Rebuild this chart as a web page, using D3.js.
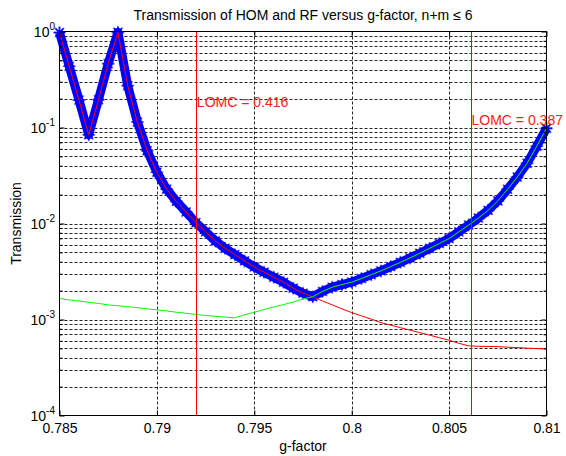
<!DOCTYPE html>
<html>
<head>
<meta charset="utf-8">
<script src="https://cdn.jsdelivr.net/npm/d3@7"></script>
<style>
  body { margin: 0; background: #fff; }
  svg { display: block; font-family: "Liberation Sans", Arial, sans-serif; }
</style>
</head>
<body>
<svg id="chart"></svg>
<script>
// g-factor sample points
const gFactor = [
  0.785, 0.7855, 0.786, 0.7865, 0.787, 0.7875, 0.788, 0.7885, 0.789, 0.7895,
  0.790, 0.7905, 0.791, 0.7915, 0.792, 0.7925, 0.793, 0.7935, 0.794, 0.7945,
  0.795, 0.7955, 0.796, 0.7965, 0.797, 0.7975, 0.798, 0.7985, 0.799, 0.7995,
  0.800, 0.8005, 0.801, 0.8015, 0.802, 0.8025, 0.803, 0.8035, 0.804, 0.8045,
  0.805, 0.8055, 0.806, 0.8065, 0.807, 0.8075, 0.808, 0.8085, 0.809, 0.8095, 0.810
];
// red trace
const redT = [
  0.976, 0.434, 0.193, 0.084, 0.195, 0.463, 0.98, 0.273, 0.114, 0.0573,
  0.0342, 0.0228, 0.0170, 0.0132, 0.0102, 0.0082, 0.00659, 0.00551, 0.00474, 0.00408,
  0.00352, 0.00311, 0.00276, 0.00244, 0.00212, 0.00188, 0.00172, 0.00156, 0.00142, 0.00129,
  0.00118, 0.00109, 0.00101, 0.000927, 0.000873, 0.000822, 0.000774, 0.000729, 0.000687, 0.000646,
  0.000608, 0.000565, 0.000532, 0.000526, 0.000524, 0.000522, 0.000515, 0.000509, 0.000503, 0.000498, 0.000493
];
// green trace
const greenT = [
  0.00166, 0.00160, 0.00156, 0.00151, 0.00147, 0.00142, 0.00139, 0.00136, 0.00133, 0.00129,
  0.00126, 0.00123, 0.00119, 0.00116, 0.00113, 0.00110, 0.00108, 0.00106, 0.00104, 0.00112,
  0.00119, 0.00127, 0.00135, 0.00143, 0.00152, 0.00164, 0.00173, 0.00196, 0.00217, 0.00231,
  0.00245, 0.00267, 0.00293, 0.00321, 0.00356, 0.00394, 0.00438, 0.0049, 0.00551, 0.0062,
  0.00697, 0.00819, 0.00962, 0.0114, 0.0137, 0.0172, 0.0227, 0.0305, 0.0423, 0.0638, 0.098
];
// blue trace = the larger of the two
const blueT = redT.map((r, i) => Math.max(r, greenT[i]));

const xTicks = [0.785, 0.79, 0.795, 0.8, 0.805, 0.81];
const yExps = [0, -1, -2, -3, -4];
const lomcG = [0.7920, 0.8061];
const lomcLabel = ["LOMC = 0.416", "LOMC = 0.387"];
const lomcLabelT = [0.165, 0.105];

const W = 566, H = 456;
const x0 = 59.5, x1 = 546.5, y0 = 31.5, y1 = 415.5;

const svg = d3.select("#chart").attr("width", W).attr("height", H);

const x = d3.scaleLinear().domain([0.785, 0.81]).range([x0, x1]);
const y = d3.scaleLog().domain([1e-4, 1]).range([y1, y0]);

// log ticks: majors + minors
const minorVals = [];
yExps.slice(1).forEach(e => {
    for (let k = 2; k <= 9; k++) minorVals.push(k * Math.pow(10, e));
});
const majorVals = yExps.map(e => Math.pow(10, e));

// grid
const grid = svg.append("g")
    .attr("stroke", "#000")
    .attr("stroke-width", 1)
    .attr("stroke-dasharray", "3,2")
    .attr("opacity", 0.85);

grid.selectAll(".hg")
    .data(majorVals.concat(minorVals).filter(v => v > 1e-4 && v < 1))
    .enter().append("line")
    .attr("x1", x0).attr("x2", x1)
    .attr("y1", d => Math.round(y(d)) + 0.5)
    .attr("y2", d => Math.round(y(d)) + 0.5);

grid.selectAll(".vg")
    .data(xTicks.slice(1, -1))
    .enter().append("line")
    .attr("x1", d => Math.round(x(d)) + 0.5)
    .attr("x2", d => Math.round(x(d)) + 0.5)
    .attr("y1", y0).attr("y2", y1);

// blue band with star markers
const pts = gFactor.map((g, i) => [g, blueT[i]]);
const line = d3.line().x(d => x(d[0])).y(d => y(d[1]));

const star = r => {
    const c = r * 0.72;
    return `M${-r},0H${r}M0,${-r}V${r}M${-c},${-c}L${c},${c}M${-c},${c}L${c},${-c}`;
};

// soft outer stars
svg.append("g").selectAll("path")
    .data(pts)
    .enter().append("path")
    .attr("transform", d => `translate(${x(d[0])},${y(d[1])})`)
    .attr("d", star(6.5))
    .attr("fill", "none")
    .attr("stroke", "#7a7aff")
    .attr("stroke-width", 1.6);

svg.append("path")
    .datum(pts)
    .attr("d", line)
    .attr("fill", "none")
    .attr("stroke", "#0000ff")
    .attr("stroke-width", 9)
    .attr("stroke-linejoin", "round");

svg.append("g").selectAll("path")
    .data(pts)
    .enter().append("path")
    .attr("transform", d => `translate(${x(d[0])},${y(d[1])})`)
    .attr("d", star(5.5))
    .attr("fill", "none")
    .attr("stroke", "#0000ff")
    .attr("stroke-width", 1.6);

// red and green traces
svg.append("path")
    .datum(gFactor.map((g, i) => [g, redT[i]]))
    .attr("d", line)
    .attr("fill", "none")
    .attr("stroke", "#ff0000")
    .attr("stroke-width", 1);

svg.append("path")
    .datum(gFactor.map((g, i) => [g, greenT[i]]))
    .attr("d", line)
    .attr("fill", "none")
    .attr("stroke", "#00ff00")
    .attr("stroke-width", 1);

// LOMC markers
svg.selectAll(".lomc")
    .data(lomcG)
    .enter().append("line")
    .attr("x1", d => Math.round(x(d)) + 0.5)
    .attr("x2", d => Math.round(x(d)) + 0.5)
    .attr("y1", y0).attr("y2", y1)
    .attr("stroke", "#ff0000")
    .attr("stroke-width", 1);

svg.selectAll(".lomcText")
    .data(lomcG)
    .enter().append("text")
    .attr("x", d => x(d) + 1)
    .attr("y", (d, i) => y(lomcLabelT[i]))
    .attr("fill", "#ff2020")
    .style("font-size", "14px")
    .text((d, i) => lomcLabel[i]);

// axes box
svg.append("rect")
    .attr("x", x0).attr("y", y0)
    .attr("width", x1 - x0).attr("height", y1 - y0)
    .attr("fill", "none")
    .attr("stroke", "#000");

// x ticks (inward) + labels
svg.append("g")
    .attr("transform", `translate(0,${y1})`)
    .call(d3.axisBottom(x).tickValues(xTicks).tickSizeInner(-5).tickSizeOuter(0)
        .tickPadding(7.5).tickFormat(d => d3.format("")(+d.toFixed(3))))
    .call(g => g.select(".domain").remove())
    .call(g => g.selectAll("text").style("font-size", "14px").attr("fill", "#000"));

svg.append("g")
    .attr("transform", `translate(0,${y0})`)
    .call(d3.axisTop(x).tickValues(xTicks).tickSizeInner(-5).tickSizeOuter(0).tickFormat(""))
    .call(g => g.select(".domain").remove());

// y ticks (inward), majors and minors
[["left", x0, d3.axisLeft], ["right", x1, d3.axisRight]].forEach(([side, px, ax]) => {
    svg.append("g")
        .attr("transform", `translate(${px},0)`)
        .call(ax(y).tickValues(majorVals).tickSizeInner(-5).tickSizeOuter(0).tickFormat(""))
        .call(g => g.select(".domain").remove());
    svg.append("g")
        .attr("transform", `translate(${px},0)`)
        .call(ax(y).tickValues(minorVals).tickSizeInner(-3).tickSizeOuter(0).tickFormat(""))
        .call(g => g.select(".domain").remove());
});

// y tick labels: 10^e
const yl = svg.append("g").style("font-size", "14px");
yExps.forEach(e => {
    const t = yl.append("text")
        .attr("x", 55)
        .attr("y", y(Math.pow(10, e)) + 5)
        .attr("text-anchor", "end");
    t.append("tspan").text("10");
    t.append("tspan").attr("dy", -7).style("font-size", "10px").text(e);
});

// titles
svg.append("text")
    .attr("x", (x0 + x1) / 2)
    .attr("y", 20)
    .attr("text-anchor", "middle")
    .style("font-size", "14px")
    .text("Transmission of HOM and RF versus g-factor, n+m \u2264 6");

svg.append("text")
    .attr("x", (x0 + x1) / 2)
    .attr("y", 451)
    .attr("text-anchor", "middle")
    .style("font-size", "14px")
    .text("g-factor");

svg.append("text")
    .attr("transform", `translate(21,${(y0 + y1) / 2}) rotate(-90)`)
    .attr("text-anchor", "middle")
    .style("font-size", "14px")
    .text("Transmission");
</script>
</body>
</html>
